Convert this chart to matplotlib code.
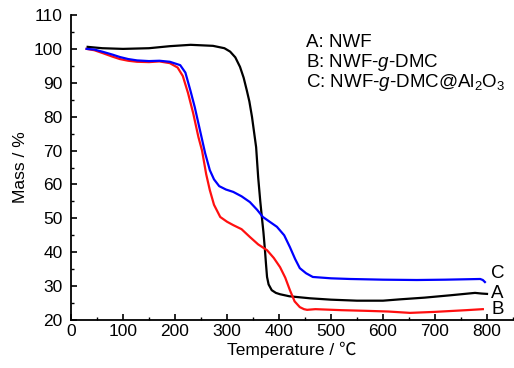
import matplotlib
matplotlib.use("Agg")
import matplotlib.pyplot as plt
from matplotlib.ticker import MultipleLocator

plt.rcParams['font.family'] = ['Liberation Sans', 'DejaVu Sans']
plt.rcParams['mathtext.fontset'] = 'custom'
plt.rcParams['mathtext.rm'] = 'Liberation Sans'
plt.rcParams['mathtext.it'] = 'Liberation Sans:italic'

# Curve A: NWF
temp_a = [32, 60, 100, 150, 190, 230, 273, 295, 306, 316, 325, 332, 338, 343, 348, 352,
          356, 360, 364, 367, 370, 373, 375, 377, 380, 386, 394, 402, 420, 460, 500, 550,
          600, 633, 680, 730, 777, 790, 800]
mass_a = [100.6, 100.2, 100.0, 100.2, 100.8, 101.2, 100.9, 100.2, 99.2, 97.5, 94.7, 91.5,
          87.8, 84.5, 80, 75.5, 71, 62, 55, 50.4, 46, 40.6, 36.5, 32.7, 30.5, 28.8, 28.0,
          27.6, 27.0, 26.4, 26.0, 25.7, 25.7, 26.1, 26.6, 27.3, 28.0, 27.8, 27.7]

# Curve B: NWF-g-DMC
temp_b = [30, 45, 62, 80, 94, 110, 127, 150, 170, 190, 205, 215, 225, 235, 245, 252, 260,
          267, 275, 287, 300, 312, 328, 344, 360, 377, 390, 402, 412, 421, 430, 440, 448,
          454, 470, 520, 569, 610, 652, 700, 760, 792]
mass_b = [100.0, 99.6, 98.7, 97.7, 97.0, 96.5, 96.2, 96.1, 96.3, 95.8, 94.5, 92, 87, 81,
          74, 70, 63, 58.3, 54, 50.4, 49, 48, 46.8, 44.5, 42.3, 40.6, 38.3, 35.6, 32.5,
          28.8, 25.5, 23.8, 23.2, 23.0, 23.2, 22.9, 22.7, 22.5, 22.1, 22.4, 22.9, 23.2]

# Curve C: NWF-g-DMC@Al2O3
temp_c = [30, 45, 62, 80, 94, 110, 127, 150, 170, 190, 210, 220, 230, 238, 248, 258, 267,
          275, 285, 298, 312, 328, 344, 358, 369, 382, 396, 410, 421, 431, 440, 452, 465,
          500, 537, 600, 665, 720, 787, 792, 796]
mass_c = [100.0, 99.8, 99.1, 98.3, 97.6, 97.0, 96.6, 96.4, 96.5, 96.2, 95.2, 93, 87.5,
          82.8, 76, 69.2, 64.2, 61.5, 59.5, 58.5, 57.8, 56.5, 54.8, 52.5, 50.4, 49, 47.5,
          45, 41.5, 38, 35.3, 33.8, 32.7, 32.3, 32.1, 31.9, 31.8, 31.9, 32.1, 31.8, 31.2]

legend_lines = ['A: NWF', 'B: NWF-$\\mathit{g}$-DMC', 'C: NWF-$\\mathit{g}$-DMC@Al$_2$O$_3$']
end_labels = ['C', 'A', 'B']

fig = plt.figure(figsize=(5.14, 3.68), dpi=100)
ax = fig.add_axes([71/514, 1-320/368, (513-71)/514, (320-15)/368])

ax.plot(temp_a, mass_a, color='black', lw=1.6)
ax.plot(temp_b, mass_b, color='#ff1010', lw=1.6)
ax.plot(temp_c, mass_c, color='#0000ff', lw=1.6)

ax.set_xlim(0, 850)
ax.set_ylim(20, 110)
ax.xaxis.set_major_locator(MultipleLocator(100))
ax.xaxis.set_minor_locator(MultipleLocator(50))
ax.yaxis.set_major_locator(MultipleLocator(10))
ax.yaxis.set_minor_locator(MultipleLocator(5))
ax.set_xticks(range(0, 801, 100))

for s in ['top', 'right']:
    ax.spines[s].set_visible(False)
for s in ['left', 'bottom']:
    ax.spines[s].set_linewidth(1.3)

ax.tick_params(which='major', direction='in', length=4.5, width=1.2, labelsize=12.5)
ax.tick_params(which='minor', direction='in', length=2.5, width=1.0)
ax.tick_params(axis='y', which='major', pad=6)
ax.tick_params(axis='x', which='major', pad=3)

ax.set_xlabel('Temperature / ℃', fontsize=12.5, labelpad=2,
              family=['Liberation Sans', 'Noto Sans CJK SC'])
ax.set_ylabel('Mass / %', fontsize=12.5, labelpad=4)

ys = [102.0, 96.1, 90.2]
for txt, y in zip(legend_lines, ys):
    ax.text(452, y, txt, fontsize=13.5, ha='left', va='center')

for txt, y in zip(end_labels, [33.6, 27.7, 23.0]):
    ax.text(808, y, txt, fontsize=13.5, ha='left', va='center')

fig.savefig('out.png', dpi=100)
